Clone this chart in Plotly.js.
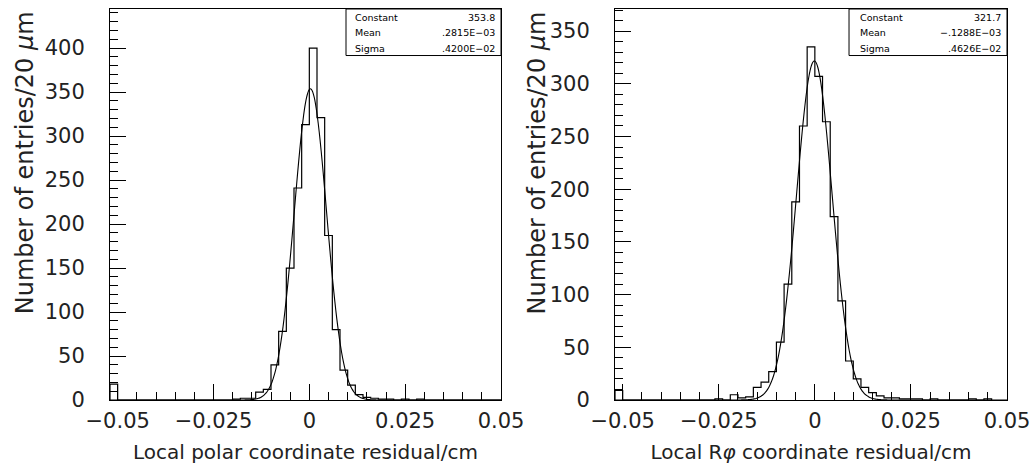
<!DOCTYPE html>
<html>
<head>
<meta charset="utf-8">
<script src="https://cdn.plot.ly/plotly-3.0.1.min.js"></script>
<style>html,body{margin:0;padding:0;background:#fff;}#chart{width:1035px;height:473px;}</style>
</head>
<body>
<div id="chart"></div>
<script>
// ---- data ----
const binStart = -0.052;
const binWidth = 0.002;
// Left: Local polar coordinate residual, entries per 20 um bin
const polarCounts = [18, 0,0,0,0,0, 0,0,0,0,0, 0,0,0,0,0,
  1,2,2,9,12, 40,78,150,241,313, 400,321,187,80,34, 17,6,3,2,1, 1,0,1,0,1,
  0,0,0,0,0, 0,0,0,0,0];
// Right: Local R-phi coordinate residual
const rphiCounts = [9, 0,0,0,0,0, 0,0,0,0,0, 0,0,
  1,0,5,2,3, 12,17,27,55,110, 188,260,335,307,264, 174,94,37,20,12, 7,4,2,2,1,
  1,1,0,1,0, 0,0,0,1,0, 1];
// Gaussian fit parameters (from stats boxes)
const polarFit = {constant: 353.8, mean: 0.2815e-3, sigma: 0.4200e-2};
const rphiFit = {constant: 321.7, mean: -0.1288e-3, sigma: 0.4626e-2};
const statLabels = ["Constant", "Mean", "Sigma"];
const polarStatText = ["353.8", ".2815E\u221203", ".4200E\u221202"];
const rphiStatText = ["321.7", "\u2212.1288E\u221203", ".4626E\u221202"];
const xTickVals = [-0.05, -0.025, 0, 0.025, 0.05];
const xTickLabels = ["\u22120.05", "\u22120.025", "0", "0.025", "0.05"];
const xTitles = ["Local polar coordinate residual/cm", "Local R<i>\u03c6</i> coordinate residual/cm"];
const yTitle = "Number of entries/20 <i>\u03bc</i>m";

// ---- build step outlines from bin counts ----
function stepTrace(counts, xa, ya) {
  const xs = [binStart], ys = [0];
  for (let i = 0; i < counts.length; i++) { xs.push(binStart + i * binWidth); ys.push(counts[i]); }
  xs.push(binStart + counts.length * binWidth); ys.push(0);
  return {x: xs, y: ys, type: 'scatter', mode: 'lines', line: {shape: 'hv', color: '#000', width: 1.2},
          xaxis: xa, yaxis: ya, hoverinfo: 'skip', showlegend: false, cliponaxis: true};
}
function fitTrace(p, xa, ya) {
  const xs = [], ys = [];
  const n = 400;
  const lo = binStart, hi = 0.05;
  for (let i = 0; i <= n; i++) {
    const x = lo + (hi - lo) * i / n;
    xs.push(x);
    ys.push(p.constant * Math.exp(-0.5 * Math.pow((x - p.mean) / p.sigma, 2)));
  }
  return {x: xs, y: ys, type: 'scatter', mode: 'lines', line: {color: '#000', width: 1.1, shape: 'spline'},
          xaxis: xa, yaxis: ya, hoverinfo: 'skip', showlegend: false};
}

const data = [
  stepTrace(polarCounts, 'x', 'y'), fitTrace(polarFit, 'x', 'y'),
  stepTrace(rphiCounts, 'x2', 'y2'), fitTrace(rphiFit, 'x2', 'y2')
];

const FONT = '"DejaVu Sans", "Liberation Sans", sans-serif';
const TXT = '#222';
function xAxis(domain, title, anchor) {
  return {domain: domain, range: [binStart, 0.05], anchor: anchor,
    showline: true, linecolor: '#000', linewidth: 1, mirror: true,
    ticks: 'inside', ticklen: 16, tickcolor: '#000', tickwidth: 1,
    tickvals: xTickVals, ticktext: xTickLabels,
    minor: {ticks: 'inside', ticklen: 8, dtick: 0.005, tick0: 0, tickcolor: '#000', tickwidth: 1},
    showgrid: false, zeroline: false, ticklabelstandoff: 2,
    tickfont: {family: FONT, size: 21, color: TXT},
    title: {text: title, font: {family: FONT, size: 20, color: TXT}, standoff: 12}};
}
function yAxis(maxv, anchor) {
  return {domain: [0, 1], range: [0, maxv], anchor: anchor,
    showline: true, linecolor: '#000', linewidth: 1, mirror: true,
    ticks: 'inside', ticklen: 16, tickcolor: '#000', tickwidth: 1, dtick: 50, tick0: 0,
    minor: {ticks: 'inside', ticklen: 8, dtick: 10, tick0: 0, tickcolor: '#000', tickwidth: 1},
    showgrid: false, zeroline: false, ticklabelstandoff: 20,
    tickfont: {family: FONT, size: 21, color: TXT}};
}

const shapes = [];
const annotations = [];
function statsBox(xd, yd, left, labelX, values) {
  shapes.push({type: 'rect', xref: xd, yref: yd, x0: left, x1: 1, y0: 0.881, y1: 1,
    line: {color: '#000', width: 1}, fillcolor: '#fff', layer: 'above'});
  const rows = [0.978, 0.939, 0.898];
  for (let i = 0; i < 3; i++) {
    annotations.push({xref: xd, yref: yd, x: labelX, y: rows[i], xanchor: 'left', yanchor: 'middle',
      text: statLabels[i], showarrow: false, font: {family: FONT, size: 9.5, color: '#000'}});
    annotations.push({xref: xd, yref: yd, x: 0.99, y: rows[i], xanchor: 'right', yanchor: 'middle',
      text: values[i], showarrow: false, font: {family: FONT, size: 9.5, color: '#000'}});
  }
}
statsBox('x domain', 'y domain', 0.6036, 0.6215, polarStatText);
statsBox('x2 domain', 'y2 domain', 0.597, 0.620, rphiStatText);

// y titles (top-aligned as in the original)
annotations.push({xref: 'paper', yref: 'paper', x: -0.095, y: 1.0, xanchor: 'center', yanchor: 'top',
  textangle: -90, text: yTitle, showarrow: false, font: {family: FONT, size: 24, color: TXT}});
annotations.push({xref: 'paper', yref: 'paper', x: 0.476, y: 1.0, xanchor: 'center', yanchor: 'top',
  textangle: -90, text: yTitle, showarrow: false, font: {family: FONT, size: 24, color: TXT}});

const layout = {
  width: 1035, height: 473,
  margin: {l: 110, r: 28, t: 9, b: 73},
  paper_bgcolor: '#fff', plot_bgcolor: '#fff',
  showlegend: false,
  xaxis: xAxis([0, 0.4359], xTitles[0], 'y'),
  yaxis: yAxis(444.5, 'x'),
  xaxis2: xAxis([0.563, 1], xTitles[1], 'y2'),
  yaxis2: yAxis(371, 'x2'),
  shapes: shapes,
  annotations: annotations
};

Plotly.newPlot('chart', data, layout, {staticPlot: true, displayModeBar: false});
</script>
</body>
</html>
